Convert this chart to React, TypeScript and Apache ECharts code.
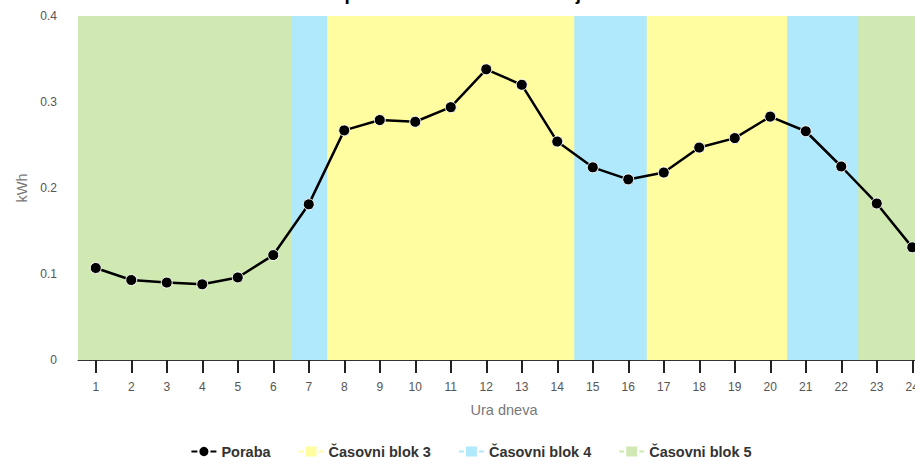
import React, { useEffect, useRef } from "react";
import * as echarts from "echarts";

const titleText = "Urna poraba v izbranem obdobju";
const hours = ["1","2","3","4","5","6","7","8","9","10","11","12","13","14","15","16","17","18","19","20","21","22","23","24"];
const consumption = [0.107,0.093,0.090,0.088,0.096,0.122,0.181,0.267,0.279,0.277,0.294,0.338,0.320,0.254,0.224,0.210,0.218,0.247,0.258,0.283,0.266,0.225,0.182,0.131];
const block3Hours = [8,9,10,11,12,13,14,17,18,19,20];
const block4Hours = [7,15,16,21,22];
const block5Hours = [1,2,3,4,5,6,23,24];
const bandTop = 0.4;
const yTicks = [0, 0.1, 0.2, 0.3, 0.4];

const FONT = "'Liberation Sans', Arial, sans-serif";
const BLOCK_ICON = "path://M0,6h5v2h-5z M7,2h11v10h-11z M20,6h5v2h-5z";

function bandData(hrs: number[]) {
  return hours.map((h) => (hrs.includes(Number(h)) ? bandTop : "-"));
}

export default function App() {
  const ref = useRef<HTMLDivElement>(null);
  useEffect(() => {
    if (!ref.current) return;
    const chart = echarts.init(ref.current, null, { renderer: "svg" });
    const bandSeries = (name: string, hrs: number[], color: string) => ({
      name,
      type: "bar",
      data: bandData(hrs),
      barGap: "-100%",
      barWidth: 37,
      itemStyle: { color },
      emphasis: { disabled: true },
      z: 1,
    });
    chart.setOption({
      animation: false,
      textStyle: { fontFamily: FONT },
      title: {
        text: titleText,
        left: 291,
        top: -1,
        textStyle: { fontFamily: FONT, fontSize: 19, fontWeight: "bold", color: "#000" },
      },
      legend: {
        left: "center",
        top: 459,
        itemWidth: 25,
        itemHeight: 14,
        itemGap: 28,
        textStyle: { fontFamily: FONT, fontSize: 14.5, fontWeight: "bold", color: "#333" },
        data: [
          { name: "Poraba" },
          { name: "Časovni blok 3", icon: BLOCK_ICON },
          { name: "Časovni blok 4", icon: BLOCK_ICON },
          { name: "Časovni blok 5", icon: BLOCK_ICON },
        ],
      },
      grid: { left: 78, right: 12, top: 36, bottom: 120 },
      xAxis: {
        type: "category",
        data: hours,
        boundaryGap: true,
        name: "Ura dneva",
        nameLocation: "middle",
        nameGap: 42,
        nameTextStyle: { fontFamily: FONT, fontSize: 14.5, color: "#777" },
        axisLine: { show: true, lineStyle: { color: "#333", width: 1 } },
        axisTick: { show: true, alignWithLabel: true, length: 13, lineStyle: { color: "#222", width: 2 } },
        axisLabel: { show: true, interval: 0, margin: 21, fontSize: 12, color: "#555", fontFamily: FONT },
        splitLine: { show: false },
      },
      yAxis: {
        type: "value",
        min: yTicks[0],
        max: yTicks[yTicks.length - 1],
        interval: 0.1,
        name: "kWh",
        nameLocation: "middle",
        nameGap: 48,
        nameTextStyle: { fontFamily: FONT, fontSize: 14.5, color: "#777" },
        axisLine: { show: false },
        axisTick: { show: false },
        axisLabel: { margin: 21, fontSize: 12, color: "#555", fontFamily: FONT },
        splitLine: { show: false },
      },
      series: [
        {
          name: "Poraba",
          type: "line",
          data: consumption,
          symbol: "circle",
          symbolSize: 11,
          lineStyle: { color: "#000", width: 2.5 },
          itemStyle: { color: "#000", borderColor: "#fff", borderWidth: 1 },
          z: 5,
        },
        bandSeries("Časovni blok 3", block3Hours, "#fffd9f"),
        bandSeries("Časovni blok 4", block4Hours, "#b0e8fc"),
        bandSeries("Časovni blok 5", block5Hours, "#d0e9b2"),
      ],
    });
    return () => chart.dispose();
  }, []);
  return (
    <div style={{ position: "fixed", left: 0, top: 0, width: 915, height: 461, overflow: "hidden", background: "#fff" }}>
      <div ref={ref} style={{ position: "absolute", left: 0, top: -20, width: 942, height: 500 }} />
    </div>
  );
}
